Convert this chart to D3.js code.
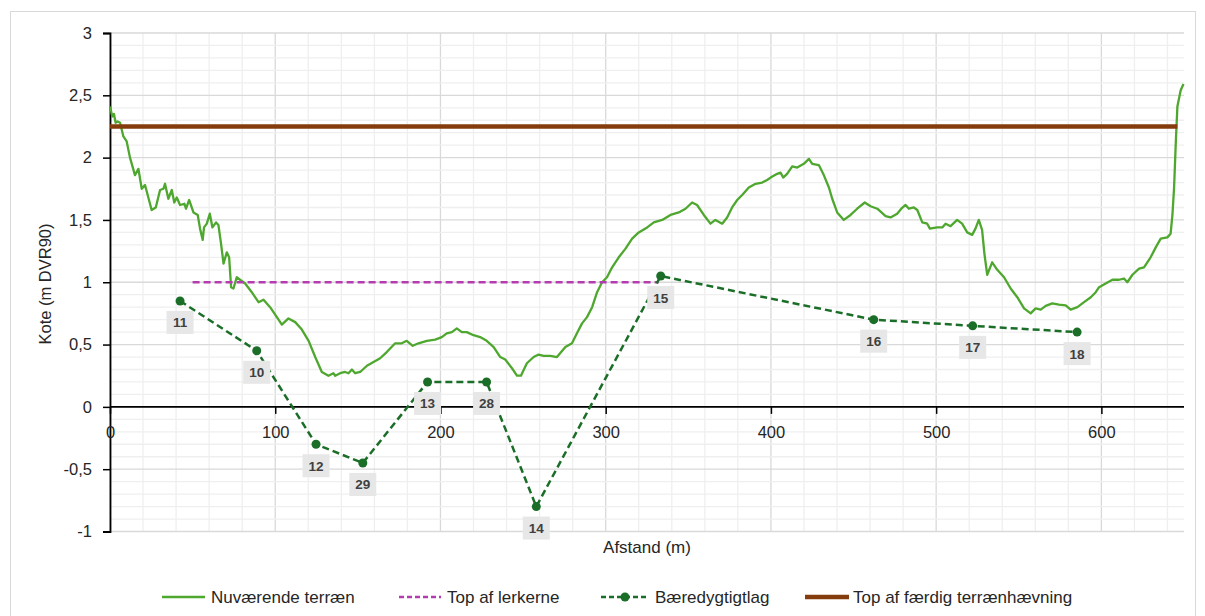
<!DOCTYPE html>
<html><head><meta charset="utf-8">
<script src="https://cdn.jsdelivr.net/npm/d3@7"></script>
<style>
body{margin:0;background:#fff;}
svg{display:block;font-family:"Liberation Sans",Arial,sans-serif;}
</style></head>
<body><svg id="c" width="1205" height="616"></svg>
<script>
// ---- data ----
const terrainDist = [0,1.4,2.4,3.4,4.6,6.1,8.1,10.1,12.1,15.1,17.2,19.2,21.2,25.2,27.7,30.3,32.3,33.3,35.3,37.4,38.9,40.4,42.4,45,46,47.9,50.5,53.1,54.5,56.1,56.9,58.6,60.4,62,64.2,65.6,67.2,68.7,70.7,72.1,73.3,74.7,76.7,78.7,81.8,85.8,89.9,92.9,96.9,101,104,108,112.1,116.1,120.2,124.2,128.2,132.2,135.2,136.3,139.3,142.3,144.3,146.4,148.4,151.4,155.5,159.5,163.5,167.5,172.6,176.6,179.6,183.2,186.7,191.8,196.8,200.8,203.8,206.9,209.9,212.9,215.9,220,224,228,232.2,236.2,239.2,243.3,246.3,248.7,252.3,256.4,259.4,262.4,266.5,270.5,275.6,279.6,282.6,285.7,288.7,291.8,294.8,297.8,300.8,303.9,307.9,312,316,320,325.1,329.1,334.2,339.2,344.2,348.3,352.3,355.3,359.4,363.4,366.4,370.5,373.5,376.5,379.6,382.6,386.6,390.7,394.7,397.7,399.8,403.8,405.8,407.4,409.8,412.9,415.9,419.9,423,425,429,432,435.1,437.1,440.1,444.1,448.2,452.2,456.8,460.3,464.4,469.4,472.4,476.4,478.9,481.5,483.5,486.5,488.6,491.6,494.6,496.2,500.6,503.7,505.7,508.7,512.7,515.7,518.8,521.8,523.8,525.8,527.8,529.2,530.9,533.9,537,541.1,545.1,549.1,553.2,557.2,560.2,563.3,566.3,570.3,574.3,578.4,581.4,585.5,589.5,593.6,596.6,598.6,602.6,606.7,610.7,613.7,615.7,618.8,622.8,625.8,629.8,632.9,635.9,639.9,641.9,643,644,645,646,648,649.7];
const terrainKote = [2.41,2.33,2.35,2.28,2.29,2.28,2.17,2.13,2.00,1.86,1.91,1.75,1.78,1.58,1.60,1.74,1.75,1.79,1.67,1.74,1.64,1.68,1.62,1.63,1.59,1.66,1.56,1.54,1.43,1.34,1.44,1.47,1.55,1.44,1.48,1.46,1.31,1.15,1.24,1.20,0.96,0.95,1.04,1.02,0.99,0.92,0.84,0.86,0.80,0.72,0.66,0.71,0.68,0.62,0.53,0.40,0.28,0.25,0.27,0.25,0.27,0.28,0.27,0.30,0.27,0.28,0.33,0.36,0.39,0.44,0.51,0.51,0.53,0.49,0.51,0.53,0.54,0.56,0.59,0.60,0.63,0.60,0.60,0.575,0.56,0.53,0.48,0.40,0.38,0.31,0.25,0.25,0.35,0.40,0.42,0.41,0.41,0.40,0.48,0.51,0.59,0.67,0.72,0.80,0.92,1.00,1.04,1.12,1.20,1.27,1.35,1.40,1.44,1.48,1.50,1.54,1.56,1.59,1.64,1.62,1.54,1.47,1.50,1.47,1.52,1.60,1.66,1.70,1.76,1.79,1.80,1.82,1.84,1.87,1.88,1.84,1.87,1.93,1.92,1.95,1.99,1.95,1.94,1.86,1.76,1.67,1.56,1.50,1.54,1.59,1.64,1.61,1.59,1.53,1.52,1.55,1.59,1.62,1.59,1.60,1.58,1.48,1.47,1.43,1.44,1.44,1.47,1.45,1.50,1.47,1.40,1.38,1.43,1.50,1.42,1.23,1.06,1.16,1.10,1.04,0.95,0.88,0.79,0.75,0.79,0.78,0.81,0.83,0.82,0.815,0.78,0.80,0.84,0.88,0.92,0.96,0.99,1.02,1.02,1.03,1.00,1.06,1.11,1.12,1.20,1.28,1.35,1.36,1.39,1.54,1.76,2.11,2.41,2.54,2.59];

const lerkerneDist = [50, 332];
const lerkerneKote = [1, 1];

const baereLabels = ["11","10","12","29","13","28","14","15","16","17","18"];
const baereDist = [42.4, 88.8, 124.7, 153, 192.2, 227.9, 258, 333.3, 462.2, 522.1, 585.3];
const baereKote = [0.85, 0.45, -0.3, -0.45, 0.2, 0.2, -0.8, 1.05, 0.7, 0.65, 0.6];

const faerdigDist = [0, 646];
const faerdigKote = [2.25, 2.25];

const xTicks = [0,100,200,300,400,500,600];
const yTicks = [-1,-0.5,0,0.5,1,1.5,2,2.5,3];

const seriesNames = ["Nuværende terræn","Top af lerkerne","Bæredygtigtlag","Top af færdig terrænhævning"];

// ---- layout ----
const svg = d3.select("#c");
const L = 110, R = 1184, T = 33, B = 531.5;
const x = d3.scaleLinear().domain([0,650]).range([L,R]);
const y = d3.scaleLinear().domain([-1,3]).range([B,T]);
const fmt = v => String(v).replace(".", ",");

svg.append("rect").attr("x",10.5).attr("y",11.5).attr("width",1185).attr("height",640)
  .attr("fill","#fff").attr("stroke","#d9d9d9");

// grid
const g = svg.append("g");
g.selectAll(".vmin").data(d3.range(0,651,20)).join("line")
  .attr("x1",d=>x(d)).attr("x2",d=>x(d)).attr("y1",T).attr("y2",B)
  .attr("stroke",d=>d%100===0?"#d9d9d9":"#efefef").attr("stroke-width",1.3);
g.selectAll(".hmin").data(d3.range(-10,31,1)).join("line")
  .attr("x1",L).attr("x2",R).attr("y1",d=>y(d/10)).attr("y2",d=>y(d/10))
  .attr("stroke",d=>d%5===0?"#d9d9d9":"#efefef").attr("stroke-width",1.3);

// axes
const yAxis = d3.axisLeft(y).tickValues(yTicks).tickSize(7).tickPadding(11).tickFormat(fmt);
const ya = svg.append("g").attr("transform",`translate(${L},0)`).call(yAxis);
const xAxis = d3.axisBottom(x).tickValues(xTicks).tickSize(7).tickPadding(12).tickFormat(fmt);
const xa = svg.append("g").attr("transform",`translate(0,${y(0)})`).call(xAxis);
[ya,xa].forEach(a=>{
  a.select(".domain").attr("stroke","#000").attr("stroke-width",1.8);
  a.selectAll(".tick line").attr("stroke","#000").attr("stroke-width",1.5);
  a.selectAll(".tick text").attr("fill","#262626").style("font-size","16.5px").style("font-family","Liberation Sans, Arial, sans-serif");
});
xa.select(".domain").attr("d",`M${L},0H${R}`);

// titles
svg.append("text").attr("transform","translate(51,284) rotate(-90)").attr("text-anchor","middle")
  .style("font-size","16.5px").attr("fill","#262626").text("Kote (m DVR90)");
svg.append("text").attr("x",647).attr("y",553).attr("text-anchor","middle")
  .style("font-size","17px").attr("fill","#262626").text("Afstand (m)");

// series
const line = d3.line().x(d=>x(d[0])).y(d=>y(d[1]));
const terrain = terrainDist.map((d,i)=>[d,terrainKote[i]]);
const lerk = lerkerneDist.map((d,i)=>[d,lerkerneKote[i]]);
const baere = baereDist.map((d,i)=>[d,baereKote[i]]);
const faerdig = faerdigDist.map((d,i)=>[d,faerdigKote[i]]);

const cTerr="#4ea72e", cLerk="#b43cb0", cBaere="#1b6e28", cFaer="#843c0c";

svg.append("path").datum(terrain).attr("d",line).attr("fill","none").attr("stroke",cTerr).attr("stroke-width",2.3).attr("stroke-linejoin","round");
svg.append("path").datum(lerk).attr("d",line).attr("fill","none").attr("stroke",cLerk).attr("stroke-width",2.5).attr("stroke-dasharray","7,4");
svg.append("path").datum(baere).attr("d",line).attr("fill","none").attr("stroke",cBaere).attr("stroke-width",2.5).attr("stroke-dasharray","7,4");
svg.selectAll(".pt").data(baere).join("circle").attr("cx",d=>x(d[0])).attr("cy",d=>y(d[1])).attr("r",4.5).attr("fill",cBaere);
svg.append("path").datum(faerdig).attr("d",line).attr("fill","none").attr("stroke",cFaer).attr("stroke-width",4.5);

// data labels
const lab = svg.selectAll(".lab").data(baere).join("g")
  .attr("transform",d=>`translate(${x(d[0])},${y(d[1])+10})`);
lab.append("rect").attr("x",-13.5).attr("y",0).attr("width",27).attr("height",23).attr("fill","#e7e7e7");
lab.append("text").attr("x",0).attr("y",16.5).attr("text-anchor","middle").style("font-size","13.5px")
  .style("font-weight","bold").attr("fill","#404040").text((d,i)=>baereLabels[i]);

// legend
const ly = 597;
const leg = [
  {x1:162,x2:205,tx:211,c:cTerr,w:2.3,dash:null,m:false},
  {x1:399,x2:441,tx:447,c:cLerk,w:2.5,dash:"5,3",m:false},
  {x1:601,x2:649,tx:655,c:cBaere,w:2.5,dash:"5,3",m:true},
  {x1:805,x2:849,tx:853,c:cFaer,w:4.5,dash:null,m:false}
];
leg.forEach((l,i)=>{
  svg.append("line").attr("x1",l.x1).attr("x2",l.x2).attr("y1",ly).attr("y2",ly)
    .attr("stroke",l.c).attr("stroke-width",l.w).attr("stroke-dasharray",l.dash);
  if(l.m) svg.append("circle").attr("cx",(l.x1+l.x2)/2).attr("cy",ly).attr("r",4.5).attr("fill",l.c);
  svg.append("text").attr("x",l.tx).attr("y",ly+6).style("font-size","17px").attr("fill","#262626").text(seriesNames[i]);
});
</script></body></html>
